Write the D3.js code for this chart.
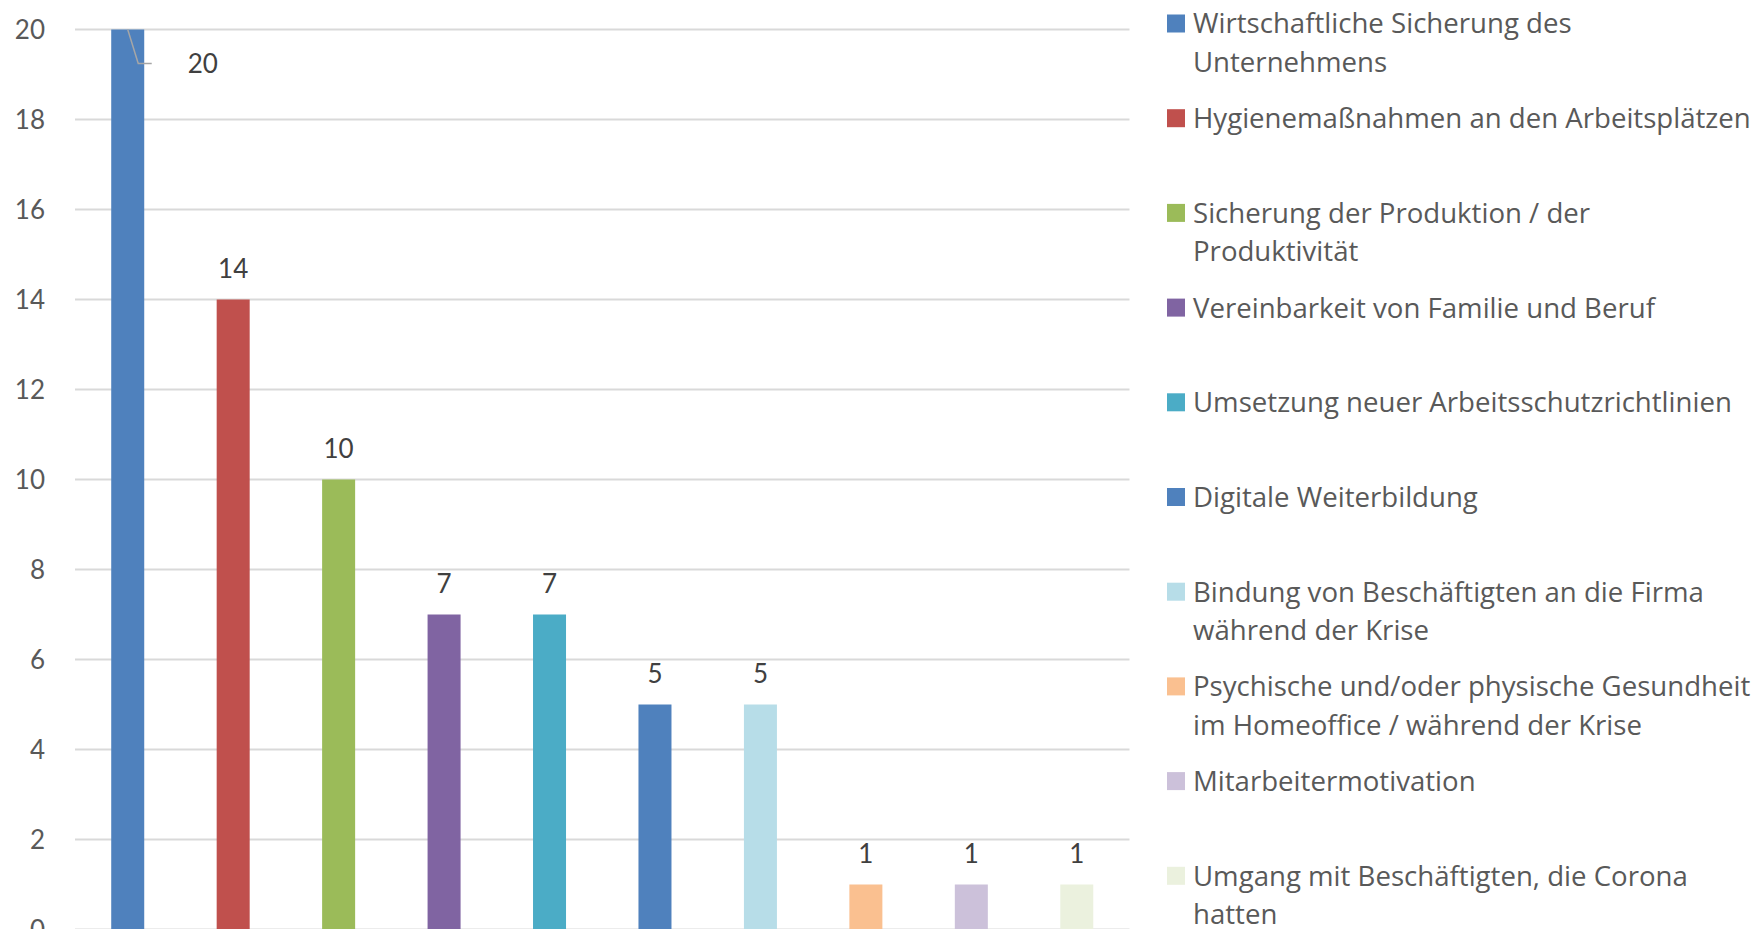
<!DOCTYPE html>
<html>
<head>
<meta charset="utf-8">
<script src="https://cdn.jsdelivr.net/npm/d3@7"></script>
<style>
  html, body { margin: 0; padding: 0; background: #fff; overflow: hidden; }
  svg { display: block; }
  text { font-family: Lato, "Noto Sans", sans-serif; }
  text.legend { font-family: "Open Sans", Lato, sans-serif; }
</style>
</head>
<body>
<svg id="chart" width="1757" height="929"></svg>
<script>
// ---- data ----
const legendLines = [
  ["Wirtschaftliche Sicherung des", "Unternehmens"],
  ["Hygienemaßnahmen an den Arbeitsplätzen"],
  ["Sicherung der Produktion / der", "Produktivität"],
  ["Vereinbarkeit von Familie und Beruf"],
  ["Umsetzung neuer Arbeitsschutzrichtlinien"],
  ["Digitale Weiterbildung"],
  ["Bindung von Beschäftigten an die Firma", "während der Krise"],
  ["Psychische und/oder physische Gesundheit", "im Homeoffice / während der Krise"],
  ["Mitarbeitermotivation"],
  ["Umgang mit Beschäftigten, die Corona", "hatten"]
];
const categories = legendLines.map(l => l.join(" "));
const values = [20, 14, 10, 7, 7, 5, 5, 1, 1, 1];
const colors = ["#4f81bd", "#c0504d", "#9bbb59", "#8064a2", "#4bacc6",
                "#4f81bd", "#b7dde8", "#fac090", "#ccc1da", "#ebf1de"];
const yTicks = [0, 2, 4, 6, 8, 10, 12, 14, 16, 18, 20];

// ---- layout ----
const svg = d3.select("#chart");
const plotLeft = 75, plotRight = 1129.5;
const x = d3.scaleBand().domain(categories).range([plotLeft, plotRight])
  .paddingInner(0.687).paddingOuter(0.3435);
const y = d3.scaleLinear().domain([0, 20]).range([929.5, 29.5]);

// gridlines
svg.append("g").selectAll("line").data(yTicks).join("line")
  .attr("x1", plotLeft).attr("x2", plotRight)
  .attr("y1", d => y(d)).attr("y2", d => y(d))
  .attr("stroke", "#d9d9d9").attr("stroke-width", 2);

// y axis labels
const yAxis = d3.axisLeft(y).tickValues(yTicks).tickSize(0).tickPadding(0);
const ya = svg.append("g").attr("transform", "translate(45,0)").call(yAxis);
ya.select(".domain").remove();
ya.selectAll("text").attr("font-size", 26).attr("fill", "#595959")
  .attr("font-family", null).attr("dy", "0.36em");

// bars
svg.append("g").selectAll("rect").data(values).join("rect")
  .attr("x", (d, i) => x(categories[i]))
  .attr("width", x.bandwidth())
  .attr("y", d => y(d))
  .attr("height", d => y(0) - y(d))
  .attr("fill", (d, i) => colors[i]);

// data labels
svg.append("g").selectAll("text").data(values).join("text")
  .attr("x", (d, i) => {
    const cx = x(categories[i]) + x.bandwidth() / 2;
    return i === 0 ? cx + 75 : cx;
  })
  .attr("y", (d, i) => i === 0 ? y(d) + 34 : y(d) - 31)
  .attr("dy", "0.36em")
  .attr("text-anchor", "middle")
  .attr("font-size", 26).attr("fill", "#404040")
  .text(d => d);

// leader line for first label
{
  const cx = x(categories[0]) + x.bandwidth() / 2;
  const top = y(values[0]);
  svg.append("path")
    .attr("d", `M${cx},${top} L${cx + 10.5},${top + 34} L${cx + 24},${top + 34}`)
    .attr("fill", "none").attr("stroke", "#a6a6a6").attr("stroke-width", 1.5);
}

// legend
const legendX = 1167, legendTop = 23.5, legendStep = 94.7, lineH = 38.5;
const lg = svg.append("g").selectAll("g").data(legendLines).join("g")
  .attr("transform", (d, i) => `translate(${legendX},${legendTop + i * legendStep})`);
lg.append("rect").attr("x", 0).attr("y", -9).attr("width", 18).attr("height", 18)
  .attr("fill", (d, i) => colors[i]);
lg.each(function(lines) {
  const g = d3.select(this);
  lines.forEach((ln, j) => {
    g.append("text").attr("class", "legend")
      .attr("x", 26).attr("y", j * lineH).attr("dy", "0.36em")
      .attr("font-size", 27.6).attr("fill", "#595959").text(ln);
  });
});
</script>
</body>
</html>
